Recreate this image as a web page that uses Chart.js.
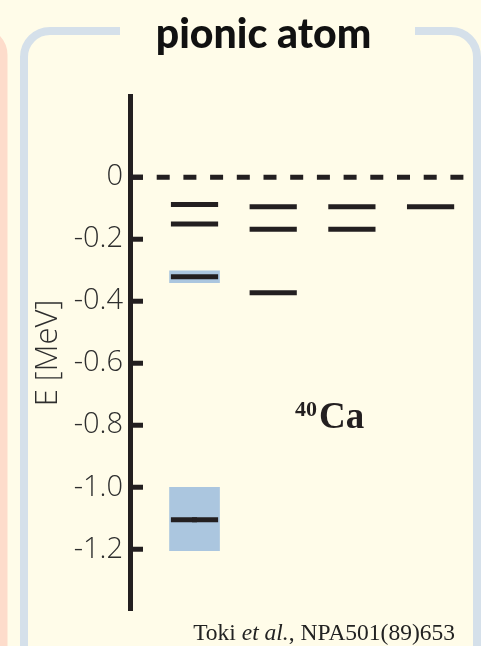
<!DOCTYPE html>
<html>
<head>
<meta charset="utf-8">
<script src="https://cdn.jsdelivr.net/npm/chart.js@4"></script>
<style>
  html, body { margin: 0; padding: 0; background: #fffce9; }
  canvas { display: block; }
</style>
</head>
<body>
<canvas id="levels" width="481" height="646"></canvas>
<script>
// Binding energies of pionic 40Ca levels [MeV], one list per column
const columns = [1, 2, 3, 4];
const levelsA = [-0.088, -0.151, -0.321, -1.105];
const levelsB = [-0.095, -0.168, -0.373];
const levelsC = [-0.095, -0.168];
const levelsD = [-0.095];
// Width bands shown behind the first column [upper, lower]
const bandsA = [[-0.302, -0.340], [-1.000, -1.205]];
// Measured point on the deep level
const markerA = [-1.105];
// Axis
const tickValues = [0, -0.2, -0.4, -0.6, -0.8, -1.0, -1.2];
const tickLabels = ['0', '-0.2', '-0.4', '-0.6', '-0.8', '-1.0', '-1.2'];
const yMin = -1.396, yMax = 0.262;
const xMin = 0.18, xMax = 4.59;
const halfWidth = 0.3;

const INK = '#231f20';
const BAND = '#abc6df';
const CREAM = '#fffce9';
const LABEL_FONT = '"Open Sans", sans-serif';

const levelSets = [levelsA, levelsB, levelsC, levelsD];
const datasets = [];

// zero-energy threshold
datasets.push({
  type: 'line',
  data: [{ x: xMin, y: 0 }, { x: xMax, y: 0 }],
  borderColor: INK, borderWidth: 5, borderDash: [13, 13.7],
  borderCapStyle: 'butt', pointRadius: 0, order: 1
});

levelSets.forEach((set, ci) => {
  const c = columns[ci];
  set.forEach(v => {
    datasets.push({
      type: 'line',
      data: [{ x: c - halfWidth, y: v }, { x: c + halfWidth, y: v }],
      borderColor: INK, borderWidth: 5, borderCapStyle: 'butt',
      pointRadius: 0, order: 1
    });
  });
});

datasets.push({
  type: 'bar',
  data: bandsA.map(b => ({ x: columns[0], y: b })),
  backgroundColor: BAND, borderWidth: 0, barThickness: 50, order: 3
});

datasets.push({
  type: 'scatter',
  data: markerA.map(v => ({ x: columns[0], y: v })),
  pointStyle: 'rect', pointRadius: 3.5, backgroundColor: INK, borderWidth: 0, order: 0
});

const decor = {
  id: 'decor',
  beforeDraw(chart) {
    const ctx = chart.ctx;
    ctx.save();
    ctx.fillStyle = CREAM;
    ctx.fillRect(0, 0, chart.width, chart.height);
    // neighbouring panel edge
    ctx.strokeStyle = '#fddccb';
    ctx.lineWidth = 8;
    ctx.beginPath();
    ctx.roundRect(-200, 31, 203.5, 640, 24);
    ctx.stroke();
    // panel frame
    ctx.strokeStyle = '#d5e0ea';
    ctx.beginPath();
    ctx.roundRect(24, 31, 453, 640, 26);
    ctx.stroke();
    ctx.fillStyle = CREAM;
    ctx.fillRect(120, 24, 295, 14);
    ctx.restore();
  },
  afterDraw(chart) {
    const ctx = chart.ctx;
    const y = chart.scales.y;
    const left = chart.chartArea.left;
    ctx.save();
    // inner tick marks
    ctx.strokeStyle = INK;
    ctx.lineWidth = 5;
    tickValues.forEach(v => {
      const py = y.getPixelForValue(v);
      ctx.beginPath();
      ctx.moveTo(left, py);
      ctx.lineTo(left + 13, py);
      ctx.stroke();
    });
    // panel heading
    ctx.fillStyle = '#111';
    ctx.textAlign = 'center';
    ctx.textBaseline = 'alphabetic';
    ctx.font = '900 41px Lato, sans-serif';
    ctx.fillText('pionic atom', 263.5, 48);
    // nucleus label
    ctx.fillStyle = INK;
    ctx.textAlign = 'left';
    ctx.font = 'bold 22px "Liberation Serif", serif';
    ctx.fillText('40', 295, 416);
    ctx.font = 'bold 37px "Liberation Serif", serif';
    ctx.fillText('Ca', 319, 428);
    // reference
    ctx.fillStyle = '#222';
    const parts = [['Toki ', ''], ['et al.', 'italic '], [', NPA501(89)653', '']];
    const size = '23.5px "Liberation Serif", serif';
    let total = 0;
    parts.forEach(p => { ctx.font = p[1] + size; total += ctx.measureText(p[0]).width; });
    let x = 455 - total;
    parts.forEach(p => {
      ctx.font = p[1] + size;
      ctx.fillText(p[0], x, 640);
      x += ctx.measureText(p[0]).width;
    });
    ctx.restore();
  }
};

new Chart(document.getElementById('levels'), {
  data: { datasets },
  plugins: [decor],
  options: {
    responsive: false,
    animation: false,
    layout: { padding: { left: 0, right: 0, top: 96, bottom: 36 } },
    plugins: { legend: { display: false }, tooltip: { enabled: false }, title: { display: false } },
    scales: {
      x: { type: 'linear', min: xMin, max: xMax, offset: false, display: false },
      y: {
        type: 'linear', min: yMin, max: yMax,
        afterBuildTicks: s => { s.ticks = tickValues.map(v => ({ value: v })); },
        afterFit: s => { s.width = 130; },
        border: { color: INK, width: 5 },
        grid: { drawOnChartArea: false, drawTicks: false },
        ticks: {
          padding: 7, color: '#2e2e2e',
          font: { family: LABEL_FONT, size: 29, weight: '300' },
          callback: (v, i) => tickLabels[i]
        },
        title: {
          display: true, text: 'E [MeV]', color: '#2e2e2e',
          font: { family: LABEL_FONT, size: 31, weight: '300' },
          padding: { top: 30, bottom: 0 }
        }
      }
    }
  }
});
</script>
</body>
</html>
